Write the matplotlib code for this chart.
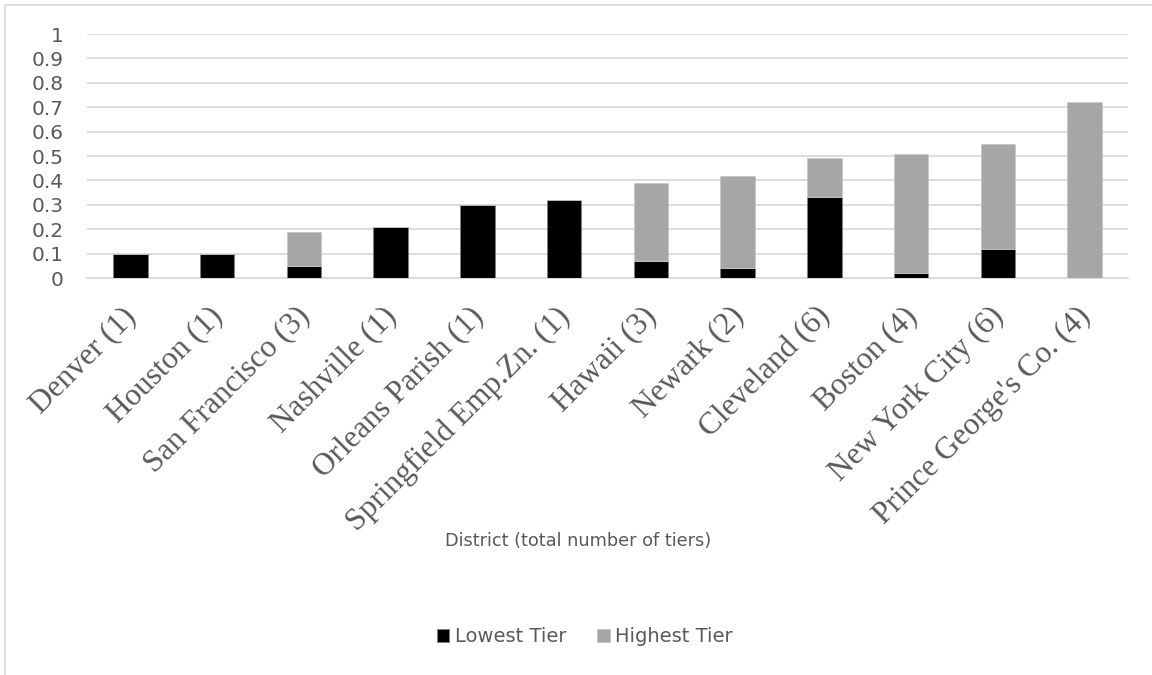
import matplotlib
matplotlib.use("Agg")
import matplotlib.pyplot as plt
from matplotlib.patches import Rectangle
from matplotlib.transforms import ScaledTranslation
import numpy as np

districts = ["Denver (1)", "Houston (1)", "San Francisco (3)", "Nashville (1)",
             "Orleans Parish (1)", "Springfield Emp.Zn. (1)", "Hawaii (3)", "Newark (2)",
             "Cleveland (6)", "Boston (4)", "New York City (6)", "Prince George's Co. (4)"]
lowest_tier = [0.10, 0.10, 0.05, 0.21, 0.30, 0.32, 0.07, 0.04, 0.33, 0.02, 0.12, 0.0]
highest_tier = [0.0, 0.0, 0.14, 0.0, 0.0, 0.0, 0.32, 0.38, 0.16, 0.49, 0.43, 0.72]
y_ticks = [0, 0.1, 0.2, 0.3, 0.4, 0.5, 0.6, 0.7, 0.8, 0.9, 1]
y_tick_labels = ["0", "0.1", "0.2", "0.3", "0.4", "0.5", "0.6", "0.7", "0.8", "0.9", "1"]

W, H = 1152, 675
fig = plt.figure(figsize=(W / 100, H / 100), dpi=100)
ax = fig.add_axes([87 / W, 1 - 278 / H, (1128 - 87) / W, (278 - 34) / H])

x = np.arange(len(districts))
ax.bar(x, lowest_tier, width=0.4, color="#000000", edgecolor="#808080", linewidth=0.6,
       label="Lowest Tier", zorder=3)
ax.bar(x, highest_tier, width=0.4, bottom=lowest_tier, color="#a6a6a6",
       edgecolor="#c8c8c8", linewidth=0.6, label="Highest Tier", zorder=3)

ax.set_xlim(-0.5, len(districts) - 0.5)
ax.set_ylim(0, 1)
ax.set_yticks(y_ticks)
ax.set_yticklabels(y_tick_labels, fontsize=14.5, color="#595959", family="DejaVu Sans")
ax.tick_params(axis="y", length=0, pad=17)
ax.set_xticks(x)
ax.set_xticklabels(districts, rotation=45, ha="right", va="top", rotation_mode="anchor",
                   fontsize=22.5, color="#595959", family="Liberation Serif")
ax.tick_params(axis="x", length=0, pad=17)
shift = ScaledTranslation(-9 / 100, 0, fig.dpi_scale_trans)
for lab in ax.get_xticklabels():
    lab.set_transform(lab.get_transform() + shift)
ax.grid(axis="y", color="#d9d9d9", linewidth=1.3, zorder=0)
for s in ["top", "right", "left"]:
    ax.spines[s].set_visible(False)
ax.spines["bottom"].set_color("#d9d9d9")
ax.spines["bottom"].set_linewidth(1.3)

fig.text(578 / W, 1 - 541 / H, "District (total number of tiers)", ha="center", va="center",
         fontsize=12.8, color="#595959", family="DejaVu Sans")

leg = fig.legend(loc="center", bbox_to_anchor=(585 / W, 1 - 637 / H), ncol=2, frameon=False,
                 handlelength=0.62, handleheight=0.62, handletextpad=0.3, columnspacing=1.6,
                 prop={"family": "DejaVu Sans", "size": 14})
for t in leg.get_texts():
    t.set_color("#595959")

fig.patches.append(Rectangle((5 / W, -0.1), 1.2, (1 - 5 / H) + 0.1,
                             transform=fig.transFigure, fill=False, edgecolor="#d9d9d9",
                             linewidth=1.2))

fig.savefig("out.png", dpi=100, facecolor="white")
